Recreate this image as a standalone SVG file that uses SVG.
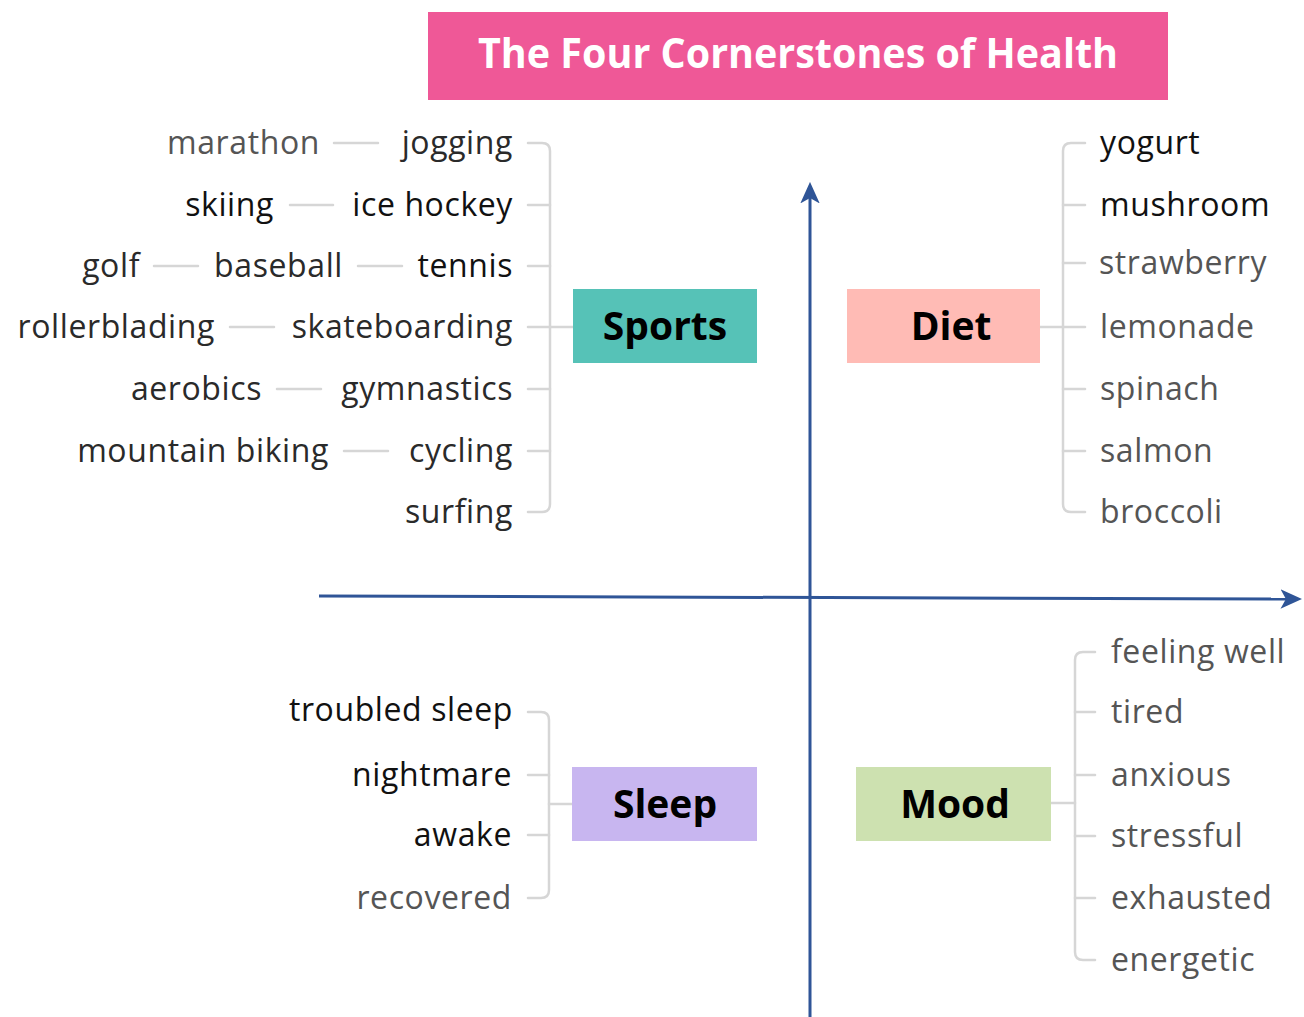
<svg xmlns="http://www.w3.org/2000/svg" width="1304" height="1017" viewBox="0 0 1304 1017">
  <style>
    .leaf { font-family: "Open Sans", "Noto Sans", sans-serif; font-size: 32px; letter-spacing: 0.6px; fill: #2a2a2a; }
    .soft { fill: #555; }
    .dark { fill: #111; }
    .end { text-anchor: end; }
    .hub { font-family: "Open Sans", "Noto Sans", sans-serif; font-size: 39px; font-weight: 700; fill: #000; text-anchor: middle; }
    .title { font-family: "Open Sans", "Noto Sans", sans-serif; font-size: 42px; font-weight: 700; fill: #fff; text-anchor: middle; }
    .branch { fill: none; stroke: #d6d6d6; stroke-width: 2.5; stroke-linecap: round; }
    .axis { fill: none; stroke: #2f5597; stroke-width: 3; }
  </style>
  <defs>
    <marker id="arrowhead" viewBox="0 0 10 10" refX="3" refY="5" markerWidth="7.2" markerHeight="7.2" orient="auto" markerUnits="strokeWidth">
      <path d="M0,0.5 L10,5 L0,9.5 L2.5,5 Z" fill="#2f5597"/>
    </marker>
  </defs>
  <rect width="1304" height="1017" fill="#fff"/>

  <!-- heading -->
  <g id="title">
    <rect x="428" y="12" width="740" height="88" fill="#ef5897"/>
    <text class="title" x="798" y="68" textLength="640" lengthAdjust="spacingAndGlyphs">The Four Cornerstones of Health</text>
  </g>

  <!-- quadrant axes -->
  <g id="axes">
    <path class="axis" d="M810,1017 V197" marker-end="url(#arrowhead)"/>
    <path class="axis" d="M319,596 L1287,599" marker-end="url(#arrowhead)"/>
  </g>

  <!-- connectors -->
  <g id="connectors">
    <!-- Sports -->
    <path class="branch" d="M528,143 H542 Q550,143 550,151 V504 Q550,512 542,512 H528"/>
    <path class="branch" d="M528,205 H550 M528,266 H550 M528,389 H550 M528,451 H550 M528,327 H573"/>
    <path class="branch" d="M334,143 H378 M290,205 H333 M154,266 H198 M358,266 H402 M230,327 H274 M277,389 H321 M344,451 H388"/>
    <!-- Diet -->
    <path class="branch" d="M1085,143 H1071 Q1063,143 1063,151 V504 Q1063,512 1071,512 H1085"/>
    <path class="branch" d="M1063,205 H1085 M1063,263 H1085 M1063,389 H1085 M1063,451 H1085 M1040,327 H1085"/>
    <!-- Sleep -->
    <path class="branch" d="M528,712 H541 Q549,712 549,720 V890 Q549,898 541,898 H528"/>
    <path class="branch" d="M528,775 H549 M528,835 H549 M549,804 H572"/>
    <!-- Mood -->
    <path class="branch" d="M1095,652 H1083 Q1075,652 1075,660 V952 Q1075,960 1083,960 H1095"/>
    <path class="branch" d="M1075,712 H1095 M1075,775 H1095 M1075,836 H1095 M1075,898 H1095 M1051,803 H1075"/>
  </g>

  <!-- Sports -->
  <g id="sports">
    <rect x="573" y="289" width="184" height="74" fill="#56c2b7"/>
    <text class="hub" x="665" y="340">Sports</text>
  </g>
  <g id="sports-items">
    <text class="leaf soft end" x="320" y="154">marathon</text>
    <text class="leaf end" x="513" y="154">jogging</text>
    <text class="leaf dark end" x="274" y="216">skiing</text>
    <text class="leaf dark end" x="513" y="216">ice hockey</text>
    <text class="leaf end" x="140" y="277">golf</text>
    <text class="leaf end" x="343" y="277">baseball</text>
    <text class="leaf dark end" x="513" y="277">tennis</text>
    <text class="leaf end" x="215" y="338">rollerblading</text>
    <text class="leaf end" x="513" y="338">skateboarding</text>
    <text class="leaf end" x="262" y="400">aerobics</text>
    <text class="leaf end" x="513" y="400">gymnastics</text>
    <text class="leaf end" x="329" y="462">mountain biking</text>
    <text class="leaf end" x="513" y="462">cycling</text>
    <text class="leaf end" x="513" y="523">surfing</text>
  </g>

  <!-- Diet -->
  <g id="diet">
    <rect x="847" y="289" width="193" height="74" fill="#ffbbb5"/>
    <text class="hub" x="951" y="340">Diet</text>
  </g>
  <g id="diet-items">
    <text class="leaf dark" x="1100" y="154">yogurt</text>
    <text class="leaf dark" x="1100" y="216">mushroom</text>
    <text class="leaf soft" x="1099" y="274">strawberry</text>
    <text class="leaf soft" x="1100" y="338">lemonade</text>
    <text class="leaf soft" x="1100" y="400">spinach</text>
    <text class="leaf soft" x="1100" y="462">salmon</text>
    <text class="leaf soft" x="1100" y="523">broccoli</text>
  </g>

  <!-- Sleep -->
  <g id="sleep">
    <rect x="572" y="767" width="185" height="74" fill="#c8b6f0"/>
    <text class="hub" x="665" y="818">Sleep</text>
  </g>
  <g id="sleep-items">
    <text class="leaf dark end" x="513" y="721">troubled sleep</text>
    <text class="leaf dark end" x="512" y="786">nightmare</text>
    <text class="leaf dark end" x="512" y="846">awake</text>
    <text class="leaf soft end" x="512" y="909">recovered</text>
  </g>

  <!-- Mood -->
  <g id="mood">
    <rect x="856" y="767" width="195" height="74" fill="#cde1b0"/>
    <text class="hub" x="955" y="818">Mood</text>
  </g>
  <g id="mood-items">
    <text class="leaf soft" x="1111" y="663">feeling well</text>
    <text class="leaf soft" x="1111" y="723">tired</text>
    <text class="leaf soft" x="1111" y="786">anxious</text>
    <text class="leaf soft" x="1111" y="847">stressful</text>
    <text class="leaf soft" x="1111" y="909">exhausted</text>
    <text class="leaf soft" x="1111" y="971">energetic</text>
  </g>
</svg>
